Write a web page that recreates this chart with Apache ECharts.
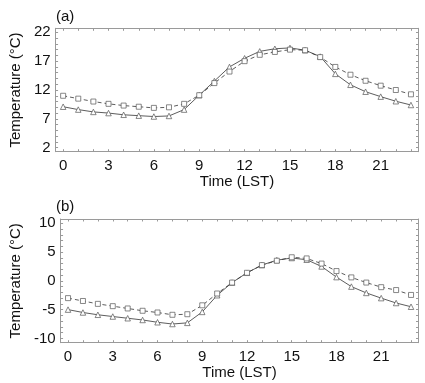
<!DOCTYPE html>
<html><head><meta charset="utf-8">
<script src="https://cdn.jsdelivr.net/npm/echarts@6/dist/echarts.min.js"></script>
<style>html,body{margin:0;padding:0;background:#fff}#c{width:425px;height:383px}</style>
</head><body><div id="c"></div><script>
const hours = [0,1,2,3,4,5,6,7,8,9,10,11,12,13,14,15,16,17,18,19,20,21,22,23];
const xTickLabels = [0,3,6,9,12,15,18,21];
const yTickLabelsA = [2,7,12,17,22];
const yTickLabelsB = [-10,-5,0,5,10];
const squaresA = [11.0,10.5,10.0,9.6,9.3,9.1,8.9,9.0,9.6,11.1,13.2,15.2,17.0,18.1,18.6,19.0,18.9,17.7,16.0,14.65,13.6,12.75,12.0,11.25];
const trianglesA = [9.1,8.6,8.2,8.0,7.7,7.55,7.4,7.5,8.6,11.1,13.55,16.0,17.5,18.7,19.15,19.3,18.9,17.8,14.8,12.9,11.7,10.85,10.05,9.4];
const squaresB = [-3.0,-3.5,-4.0,-4.4,-4.8,-5.2,-5.5,-5.9,-5.8,-4.25,-2.2,-0.3,1.4,2.74,3.5,4.1,3.9,3.0,1.7,0.6,-0.3,-1.1,-1.6,-2.45];
const trianglesB = [-5.0,-5.5,-5.9,-6.2,-6.5,-6.8,-7.2,-7.5,-7.3,-5.4,-2.5,-0.3,1.4,2.74,3.6,3.97,3.67,2.5,0.65,-1.0,-2.1,-3.0,-3.85,-4.5];

const FONT = '"Liberation Sans", Arial, Helvetica, sans-serif';
const AX = '#9a9a9a';
const LINE = '#333';

function range(a, b){ const r=[]; for(let v=a; v<=b; v++) r.push(v); return r; }
function pairs(vals){ return hours.map((h,i)=>[h, vals[i]]); }

function xAxes(gi){
  return [{
    gridIndex: gi, type:'value', min:-0.5, max:23.5, position:'bottom',
    name:'Time (LST)', nameLocation:'middle', nameGap:22,
    nameTextStyle:{fontFamily:FONT, fontSize:15, color:'#111'},
    axisLine:{show:true, onZero:false, lineStyle:{color:AX, width:1}},
    axisTick:{show:true, inside:true, length:2.5, customValues:hours, lineStyle:{color:AX}},
    axisLabel:{show:true, customValues:xTickLabels, margin:7, fontFamily:FONT, fontSize:15, color:'#111'},
    splitLine:{show:false}
  },{
    gridIndex: gi, type:'value', min:-0.5, max:23.5, position:'top',
    axisLine:{show:true, onZero:false, lineStyle:{color:AX, width:1}},
    axisTick:{show:true, inside:true, length:2.5, customValues:hours, lineStyle:{color:AX}},
    axisLabel:{show:false}, splitLine:{show:false}
  }];
}
function yAxes(gi, mn, mx, labels){
  const ticks = range(Math.ceil(mn), Math.floor(mx));
  return [{
    gridIndex: gi, type:'value', min:mn, max:mx, position:'left',
    name:'Temperature (°C)', nameLocation:'middle', nameGap:29,
    nameTextStyle:{fontFamily:FONT, fontSize:15, color:'#111'},
    axisLine:{show:true, onZero:false, lineStyle:{color:AX, width:1}},
    axisTick:{show:true, inside:true, length:2.5, customValues:ticks, lineStyle:{color:AX}},
    axisLabel:{show:true, customValues:labels, margin:5, fontFamily:FONT, fontSize:15, color:'#111'},
    splitLine:{show:false}
  },{
    gridIndex: gi, type:'value', min:mn, max:mx, position:'right',
    axisLine:{show:true, onZero:false, lineStyle:{color:AX, width:1}},
    axisTick:{show:true, inside:true, length:2.5, customValues:ticks, lineStyle:{color:AX}},
    axisLabel:{show:false}, splitLine:{show:false}
  }];
}
function lineSeries(xi, yi, vals, dashed){
  return {
    type:'line', xAxisIndex:xi, yAxisIndex:yi, data:pairs(vals),
    symbol: dashed ? 'rect' : 'triangle', symbolSize: dashed ? 5 : 5.5,
    showSymbol:true,
    lineStyle:{color:LINE, width:0.8, type: dashed ? [4,3] : 'solid'},
    itemStyle:{color:'#fff', borderColor:'#555', borderWidth:0.7},
    animation:false, z: dashed ? 3 : 2
  };
}

const chart = echarts.init(document.getElementById('c'), null, {renderer:'canvas'});
chart.setOption({
  backgroundColor:'#fff',
  animation:false,
  title:[
    {text:'(a)', left:51, top:4, textStyle:{fontFamily:FONT, fontSize:15, fontWeight:'normal', color:'#111'}},
    {text:'(b)', left:51, top:194, textStyle:{fontFamily:FONT, fontSize:15, fontWeight:'normal', color:'#111'}}
  ],
  grid:[
    {left:52, width:366.5, top:28.3, height:123.4},
    {left:52, width:366.5, top:219, height:123.7}
  ],
  xAxis:[...xAxes(0), ...xAxes(1)],
  yAxis:[...yAxes(0, 1.3, 22.7, yTickLabelsA), ...yAxes(1, -10.75, 10.75, yTickLabelsB)],
  series:[
    lineSeries(0, 0, squaresA, true),
    lineSeries(0, 0, trianglesA, false),
    lineSeries(2, 2, squaresB, true),
    lineSeries(2, 2, trianglesB, false)
  ]
});
</script></body></html>
